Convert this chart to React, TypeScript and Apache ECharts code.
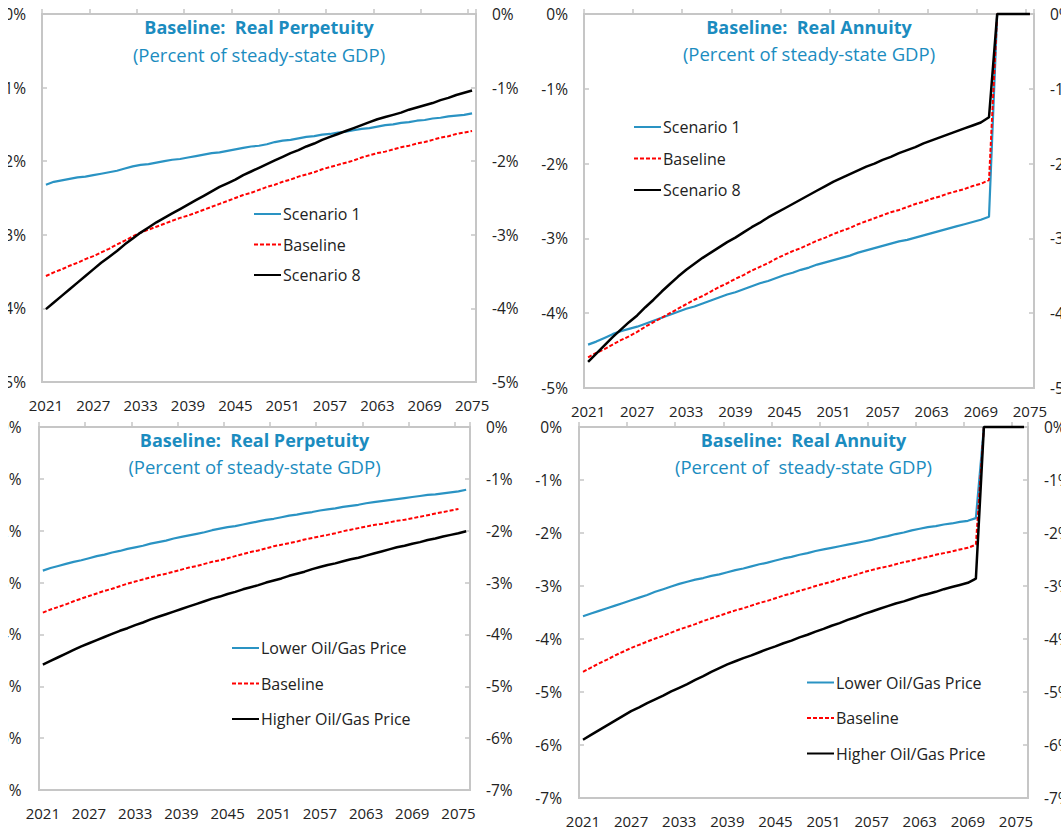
import React, { useEffect, useRef } from "react";
import * as echarts from "echarts";

// ---------- categories ----------
const YEARS_TOP = [
  "2021","2022","2023","2024","2025","2026","2027","2028","2029","2030",
  "2031","2032","2033","2034","2035","2036","2037","2038","2039","2040",
  "2041","2042","2043","2044","2045","2046","2047","2048","2049","2050",
  "2051","2052","2053","2054","2055","2056","2057","2058","2059","2060",
  "2061","2062","2063","2064","2065","2066","2067","2068","2069","2070",
  "2071","2072","2073","2074","2075",
];
const YEARS_BOTTOM = [...YEARS_TOP, "2076"];

// ---------- titles / legend names ----------
const TITLES = [
  "Baseline:  Real Perpetuity",
  "Baseline:  Real Annuity",
  "Baseline:  Real Perpetuity",
  "Baseline:  Real Annuity",
];
const SUBTITLES = [
  "(Percent of steady-state GDP)",
  "(Percent of steady-state GDP)",
  "(Percent of steady-state GDP)",
  "(Percent of  steady-state GDP)",
];
const NAMES_TOP = ["Scenario 1", "Baseline", "Scenario 8"];
const NAMES_BOTTOM = ["Lower Oil/Gas Price", "Baseline", "Higher Oil/Gas Price"];

// ---------- y-axis ranges (percent) ----------
const Y_TOP = { min: -5, max: 0, interval: 1 };
const Y_BOTTOM = { min: -7, max: 0, interval: 1 };

// ---------- top-left: real perpetuity, scenarios ----------
const TL_S1 = [
  -2.32,-2.28,-2.26,-2.24,-2.22,-2.21,-2.19,-2.17,-2.15,-2.13,
  -2.10,-2.07,-2.05,-2.04,-2.02,-2.00,-1.98,-1.97,-1.95,-1.93,
  -1.91,-1.89,-1.88,-1.86,-1.84,-1.82,-1.80,-1.79,-1.77,-1.74,
  -1.72,-1.71,-1.69,-1.67,-1.66,-1.64,-1.63,-1.61,-1.60,-1.58,
  -1.56,-1.55,-1.53,-1.51,-1.50,-1.48,-1.47,-1.45,-1.44,-1.42,
  -1.41,-1.39,-1.38,-1.37,-1.35,
];
const TL_BASE = [
  -3.56,-3.51,-3.47,-3.42,-3.38,-3.33,-3.29,-3.24,-3.19,-3.13,
  -3.08,-3.02,-2.97,-2.93,-2.89,-2.85,-2.81,-2.77,-2.74,-2.70,
  -2.66,-2.62,-2.58,-2.54,-2.50,-2.46,-2.43,-2.39,-2.35,-2.32,
  -2.28,-2.25,-2.21,-2.18,-2.15,-2.11,-2.08,-2.05,-2.02,-1.99,
  -1.95,-1.92,-1.89,-1.87,-1.84,-1.81,-1.79,-1.76,-1.74,-1.71,
  -1.68,-1.66,-1.63,-1.61,-1.59,
];
const TL_S8 = [
  -4.01,-3.92,-3.83,-3.74,-3.65,-3.56,-3.47,-3.38,-3.30,-3.22,
  -3.13,-3.05,-2.97,-2.90,-2.83,-2.77,-2.71,-2.65,-2.59,-2.53,
  -2.47,-2.41,-2.35,-2.30,-2.25,-2.19,-2.14,-2.09,-2.04,-1.99,
  -1.94,-1.89,-1.85,-1.80,-1.76,-1.71,-1.67,-1.63,-1.59,-1.55,
  -1.51,-1.47,-1.43,-1.40,-1.37,-1.34,-1.30,-1.27,-1.24,-1.21,
  -1.17,-1.14,-1.10,-1.07,-1.04,
];

// ---------- top-right: real annuity, scenarios ----------
const TR_S1 = [
  -4.42,-4.38,-4.33,-4.28,-4.24,-4.21,-4.18,-4.14,-4.10,-4.06,
  -4.02,-3.98,-3.94,-3.91,-3.87,-3.83,-3.79,-3.75,-3.72,-3.68,
  -3.64,-3.60,-3.57,-3.53,-3.49,-3.46,-3.42,-3.39,-3.35,-3.32,
  -3.29,-3.26,-3.23,-3.19,-3.16,-3.13,-3.10,-3.07,-3.04,-3.02,
  -2.99,-2.96,-2.93,-2.90,-2.87,-2.84,-2.81,-2.78,-2.75,-2.71,
  0,0,0,0,0,
];
const TR_BASE = [
  -4.59,-4.53,-4.48,-4.42,-4.36,-4.31,-4.25,-4.18,-4.12,-4.06,
  -4.00,-3.94,-3.88,-3.82,-3.77,-3.71,-3.65,-3.60,-3.54,-3.49,
  -3.43,-3.38,-3.33,-3.27,-3.22,-3.17,-3.13,-3.08,-3.03,-2.99,
  -2.94,-2.90,-2.86,-2.81,-2.77,-2.73,-2.69,-2.65,-2.62,-2.58,
  -2.54,-2.51,-2.47,-2.44,-2.40,-2.37,-2.34,-2.30,-2.27,-2.22,
  0,0,0,0,0,
];
const TR_S8 = [
  -4.65,-4.54,-4.43,-4.32,-4.22,-4.12,-4.03,-3.92,-3.82,-3.71,
  -3.61,-3.51,-3.42,-3.34,-3.26,-3.19,-3.12,-3.05,-2.99,-2.92,
  -2.85,-2.79,-2.72,-2.66,-2.60,-2.54,-2.48,-2.42,-2.36,-2.30,
  -2.24,-2.19,-2.14,-2.09,-2.04,-2.00,-1.95,-1.91,-1.86,-1.82,
  -1.78,-1.73,-1.69,-1.65,-1.61,-1.57,-1.53,-1.49,-1.45,-1.38,
  0,0,0,0,0,
];

// ---------- bottom-left: real perpetuity, oil/gas prices ----------
const BL_LOWER = [
  -2.77,-2.72,-2.68,-2.64,-2.60,-2.57,-2.53,-2.49,-2.46,-2.42,
  -2.39,-2.35,-2.32,-2.29,-2.25,-2.22,-2.19,-2.15,-2.12,-2.09,
  -2.06,-2.03,-1.99,-1.96,-1.93,-1.91,-1.88,-1.85,-1.82,-1.79,
  -1.77,-1.74,-1.71,-1.69,-1.66,-1.64,-1.61,-1.59,-1.57,-1.54,
  -1.52,-1.50,-1.47,-1.45,-1.43,-1.41,-1.39,-1.37,-1.35,-1.33,
  -1.31,-1.30,-1.28,-1.26,-1.24,-1.21,
];
const BL_BASE = [
  -3.58,-3.52,-3.47,-3.42,-3.36,-3.31,-3.26,-3.21,-3.16,-3.12,
  -3.07,-3.02,-2.98,-2.94,-2.90,-2.86,-2.83,-2.79,-2.75,-2.71,
  -2.68,-2.64,-2.60,-2.57,-2.53,-2.49,-2.45,-2.41,-2.38,-2.34,
  -2.30,-2.27,-2.24,-2.21,-2.17,-2.14,-2.11,-2.08,-2.05,-2.01,
  -1.98,-1.95,-1.92,-1.89,-1.87,-1.84,-1.81,-1.79,-1.76,-1.73,
  -1.70,-1.67,-1.64,-1.61,-1.58,
];
const BL_HIGHER = [
  -4.58,-4.51,-4.44,-4.37,-4.30,-4.23,-4.17,-4.11,-4.05,-3.99,
  -3.93,-3.88,-3.82,-3.77,-3.71,-3.66,-3.61,-3.56,-3.51,-3.46,
  -3.41,-3.36,-3.31,-3.27,-3.22,-3.18,-3.13,-3.09,-3.05,-3.00,
  -2.96,-2.92,-2.87,-2.83,-2.79,-2.74,-2.70,-2.66,-2.63,-2.59,
  -2.55,-2.52,-2.48,-2.44,-2.40,-2.36,-2.32,-2.29,-2.25,-2.22,
  -2.18,-2.15,-2.11,-2.08,-2.05,-2.01,
];

// ---------- bottom-right: real annuity, oil/gas prices ----------
const BR_LOWER = [
  -3.57,-3.52,-3.47,-3.42,-3.37,-3.32,-3.27,-3.22,-3.17,-3.11,
  -3.06,-3.01,-2.96,-2.92,-2.88,-2.85,-2.81,-2.78,-2.74,-2.70,
  -2.67,-2.63,-2.59,-2.56,-2.52,-2.48,-2.45,-2.41,-2.38,-2.34,
  -2.31,-2.28,-2.25,-2.22,-2.19,-2.16,-2.13,-2.09,-2.06,-2.02,
  -1.99,-1.95,-1.92,-1.89,-1.87,-1.84,-1.82,-1.79,-1.77,-1.72,
  0,0,0,0,0,0,
];
const BR_BASE = [
  -4.62,-4.54,-4.46,-4.39,-4.31,-4.24,-4.17,-4.11,-4.05,-3.99,
  -3.94,-3.88,-3.82,-3.77,-3.72,-3.66,-3.61,-3.56,-3.51,-3.46,
  -3.42,-3.37,-3.32,-3.28,-3.23,-3.18,-3.14,-3.09,-3.05,-3.00,
  -2.96,-2.92,-2.87,-2.83,-2.79,-2.74,-2.70,-2.66,-2.63,-2.59,
  -2.55,-2.52,-2.48,-2.45,-2.41,-2.38,-2.35,-2.31,-2.28,-2.22,
  0,0,0,0,0,0,
];
const BR_HIGHER = [
  -5.90,-5.81,-5.72,-5.63,-5.54,-5.45,-5.36,-5.29,-5.21,-5.14,
  -5.07,-4.99,-4.92,-4.85,-4.77,-4.70,-4.62,-4.55,-4.48,-4.42,
  -4.36,-4.31,-4.25,-4.19,-4.14,-4.08,-4.03,-3.97,-3.92,-3.86,
  -3.81,-3.75,-3.70,-3.64,-3.59,-3.53,-3.48,-3.43,-3.38,-3.33,
  -3.29,-3.24,-3.19,-3.15,-3.11,-3.06,-3.02,-2.98,-2.94,-2.86,
  0,0,0,0,0,0,
];

// ---------- styling / layout ----------
const FONT = '"Open Sans", "Noto Sans", sans-serif';
const TITLE_COLOR = "#1b8cbf";
const BLUE = "#2a93c3";
const RED = "#ff0000";
const BLACK = "#000000";
const GRAY = "#c6c6c6";
const TEXT = "#222222";
const OFFSET_X = 8; // chart box starts 8px from the page's left edge

const PANELS = [
  { grid: { left: 42, top: 14, width: 434, height: 368 }, tx: 259, ty: 26.5, sy: 54.5, lm: 16,
    legend: { left: 253, top: 206, gap: 14.5 }, years: YEARS_TOP, y: Y_TOP,
    names: NAMES_TOP, data: [TL_S1, TL_BASE, TL_S8] },
  { grid: { left: 584, top: 14, width: 450, height: 374 }, tx: 809, ty: 26.5, sy: 53.5, lm: 16,
    legend: { left: 633, top: 119, gap: 15.5 }, years: YEARS_TOP, y: Y_TOP,
    names: NAMES_TOP, data: [TR_S1, TR_BASE, TR_S8] },
  { grid: { left: 39, top: 427, width: 431, height: 363 }, tx: 254.5, ty: 440, sy: 466, lm: 17.5,
    legend: { left: 231, top: 640, gap: 19.5 }, years: YEARS_BOTTOM, y: Y_BOTTOM,
    names: NAMES_BOTTOM, data: [BL_LOWER, BL_BASE, BL_HIGHER] },
  { grid: { left: 579, top: 427, width: 449, height: 371 }, tx: 803.5, ty: 440, sy: 466, lm: 17,
    legend: { left: 806, top: 674.5, gap: 19.5 }, years: YEARS_BOTTOM, y: Y_BOTTOM,
    names: NAMES_BOTTOM, data: [BR_LOWER, BR_BASE, BR_HIGHER] },
];

const LINE_STYLES = [
  { color: BLUE, width: 2.2, type: "solid" as any },
  { color: RED, width: 2, type: [4, 2] as any },
  { color: BLACK, width: 2.5, type: "solid" as any },
];

function buildOption() {
  const grid: any[] = [];
  const xAxis: any[] = [];
  const yAxis: any[] = [];
  const series: any[] = [];
  const legend: any[] = [];
  const graphic: any[] = [];

  PANELS.forEach((p, i) => {
    grid.push({
      left: p.grid.left - OFFSET_X,
      top: p.grid.top,
      width: p.grid.width,
      height: p.grid.height,
      show: true,
      borderColor: GRAY,
      borderWidth: 2,
      backgroundColor: "transparent",
      containLabel: false,
      outerBoundsMode: "none",
    });
    xAxis.push({
      type: "category",
      gridIndex: i,
      data: p.years,
      boundaryGap: true,
      axisLine: { show: false },
      axisTick: { show: true, inside: true, length: 5, interval: 5, lineStyle: { color: GRAY, width: 1.5 } },
      axisLabel: { interval: 5, margin: 15, color: TEXT, fontSize: 15, fontFamily: FONT },
      splitLine: { show: false },
    });
    ["left", "right"].forEach((pos) => {
      yAxis.push({
        type: "value",
        gridIndex: i,
        position: pos,
        min: p.y.min,
        max: p.y.max,
        interval: p.y.interval,
        axisLine: { show: false },
        axisTick: { show: true, inside: true, length: 5, lineStyle: { color: GRAY, width: 1.5 } },
        axisLabel: {
          formatter: "{value}%",
          margin: pos === "left" ? p.lm : 16,
          color: TEXT,
          fontSize: 15.5,
          fontFamily: FONT,
        },
        splitLine: { show: false },
      });
    });
    p.names.forEach((name, k) => {
      series.push({
        type: "line",
        name,
        xAxisIndex: i,
        yAxisIndex: i * 2,
        data: p.data[k],
        symbol: "none",
        showSymbol: false,
        clip: false,
        lineStyle: LINE_STYLES[k],
        itemStyle: { color: LINE_STYLES[k].color },
        emphasis: { disabled: true },
      });
    });
    legend.push({
      orient: "vertical",
      left: p.legend.left - OFFSET_X,
      top: p.legend.top,
      padding: 0,
      itemGap: p.legend.gap,
      itemWidth: 27,
      itemHeight: 14,
      selectedMode: false,
      data: p.names,
      itemStyle: { color: "rgba(0,0,0,0)", borderColor: "rgba(0,0,0,0)", borderWidth: 0 },
      textStyle: { color: TEXT, fontSize: 16, fontFamily: FONT, lineHeight: 14, padding: [0, 0, 0, -3] },
    });
    graphic.push({
      type: "text",
      x: p.tx - OFFSET_X,
      y: p.ty,
      style: {
        text: TITLES[i],
        fill: TITLE_COLOR,
        fontSize: 18,
        fontWeight: "bold",
        fontFamily: FONT,
        align: "center",
        verticalAlign: "middle",
      },
    });
    graphic.push({
      type: "text",
      x: p.tx - OFFSET_X,
      y: p.sy,
      style: {
        text: SUBTITLES[i],
        fill: TITLE_COLOR,
        fontSize: 18.5,
        fontFamily: FONT,
        align: "center",
        verticalAlign: "middle",
      },
    });
  });

  return {
    animation: false,
    backgroundColor: "#ffffff",
    textStyle: { fontFamily: FONT },
    grid,
    xAxis,
    yAxis,
    series,
    legend,
    graphic,
  };
}

export default function App() {
  const ref = useRef<HTMLDivElement>(null);
  useEffect(() => {
    document.body.style.margin = "0";
    if (!ref.current) return;
    const chart = echarts.init(ref.current, undefined, { renderer: "svg" });
    chart.setOption(buildOption() as any);
    return () => chart.dispose();
  }, []);
  return (
    <div
      ref={ref}
      style={{ marginLeft: OFFSET_X, width: 1061 - OFFSET_X, height: 831, overflow: "hidden" }}
    />
  );
}
